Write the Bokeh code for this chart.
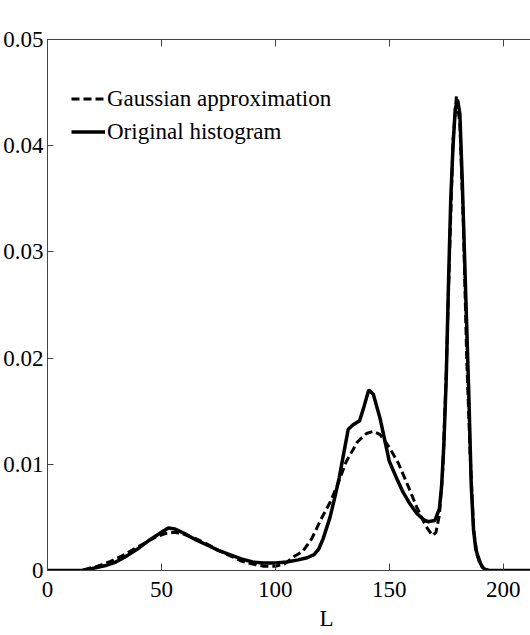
from bokeh.plotting import figure
from bokeh.models import (Range1d, LinearAxis, FixedTicker, Legend, Title,
                          CustomJSTickFormatter)
from bokeh.embed import file_html
from bokeh.resources import INLINE

FONT = "Liberation Serif"

# Original histogram (solid)
x_orig = [0, 15, 18, 22, 26, 30, 35, 40, 45, 50, 53, 56, 60, 65, 70, 75, 80,
          85, 90, 95, 100, 105, 110, 114, 117, 119, 121, 124, 126, 128, 130,
          132, 134, 137, 139, 141, 143, 146, 150, 153, 156, 159, 162, 165,
          167, 170, 172, 173, 174, 175, 176, 177, 178, 179, 180, 181, 182,
          183, 184, 185, 186, 187, 188, 189, 190, 191, 192, 194, 212]
y_orig = [0, 0, 0.0001, 0.0003, 0.0005, 0.0008, 0.0014, 0.0021, 0.0029,
          0.0036, 0.0040, 0.0039, 0.0035, 0.0029, 0.0024, 0.0019, 0.0015,
          0.0011, 0.0008, 0.0007, 0.0007, 0.0008, 0.0010, 0.0012, 0.0015,
          0.0020, 0.0030, 0.0050, 0.0068, 0.0087, 0.0110, 0.0133, 0.0137,
          0.0141, 0.0155, 0.0170, 0.0166, 0.0143, 0.0103, 0.0088, 0.0074,
          0.0063, 0.0054, 0.0048, 0.0046, 0.0047, 0.0058, 0.0080, 0.0120,
          0.0180, 0.0270, 0.0350, 0.0400, 0.0435, 0.0443, 0.0430, 0.0370,
          0.0300, 0.0230, 0.0160, 0.0080, 0.0038, 0.0020, 0.0013, 0.0007,
          0.0003, 0.0001, 0, 0]

# Gaussian approximation (dashed)
x_gauss = [0, 15, 18, 22, 27, 32, 37, 42, 47, 52, 56, 60, 65, 70, 75, 80, 85,
           90, 95, 100, 104, 108, 112, 116, 120, 124, 127, 131, 136, 140, 143,
           146, 150, 154, 158, 162, 166, 169, 170.5, 172, 173.5, 175, 176.5,
           178, 179.5, 181, 182.5, 184, 185.5, 187, 188.5, 190, 192, 194, 212]
y_gauss = [0, 0, 0.0002, 0.0004, 0.0008, 0.0013, 0.0019, 0.0025, 0.0031,
           0.0035, 0.0036, 0.0034, 0.0030, 0.0025, 0.0019, 0.0014, 0.0009,
           0.0006, 0.0004, 0.0004, 0.0006, 0.0013, 0.0018, 0.0030, 0.0048,
           0.0064, 0.0079, 0.0102, 0.0121, 0.0129, 0.0131, 0.0128, 0.0116,
           0.0101, 0.0081, 0.0060, 0.0042, 0.0033, 0.0036, 0.0052, 0.0095,
           0.0185, 0.0300, 0.0405, 0.0447, 0.0420, 0.0330, 0.0200, 0.0110,
           0.0040, 0.0015, 0.0005, 0.0001, 0, 0]

x_ticks = [0, 50, 100, 150, 200]
y_ticks = [0, 0.01, 0.02, 0.03, 0.04, 0.05]
x_label = "L"
legend_labels = ["Gaussian approximation", "Original histogram"]

p = figure(width=530, height=635, output_backend="svg", toolbar_location=None,
           x_range=Range1d(0, 212), y_range=Range1d(0, 0.05),
           x_axis_location=None, y_axis_location=None,
           min_border_left=0, min_border_right=0, min_border_top=39,
           min_border_bottom=63)
p.grid.visible = False
p.outline_line_color = None
p.background_fill_color = "white"

AX = "#444444"
empty = CustomJSTickFormatter(code="return ''")

bottom = LinearAxis(ticker=FixedTicker(ticks=x_ticks))
bottom.major_tick_in = 7
bottom.major_tick_out = 0
bottom.minor_tick_line_color = None
bottom.axis_line_color = AX
bottom.major_tick_line_color = AX
bottom.major_label_text_font = FONT
bottom.major_label_text_font_size = "23px"
bottom.major_label_text_color = "black"
bottom.major_label_standoff = 11
p.add_layout(bottom, "below")

top = LinearAxis(ticker=FixedTicker(ticks=x_ticks), formatter=empty)
top.major_tick_in = 7
top.major_tick_out = 0
top.minor_tick_line_color = None
top.axis_line_color = AX
top.major_tick_line_color = AX
top.major_label_standoff = 0
p.add_layout(top, "above")

left = LinearAxis(ticker=FixedTicker(ticks=y_ticks))
left.major_tick_in = 6
left.major_tick_out = 0
left.minor_tick_line_color = None
left.axis_line_color = AX
left.major_tick_line_color = AX
left.major_label_text_font = FONT
left.major_label_text_font_size = "23px"
left.major_label_text_color = "black"
left.major_label_standoff = 4
p.add_layout(left, "left")

xl = Title(text=x_label, align="left", offset=272, standoff=9,
           text_font=FONT, text_font_size="23px", text_font_style="normal",
           text_color="black")
p.add_layout(xl, "below")

r_o = p.line(x_orig, y_orig, line_color="black", line_width=3.5)
r_g = p.line(x_gauss, y_gauss, line_color="black", line_width=3,
             line_dash="8 4")

legend = Legend(items=[(legend_labels[0], [r_g]), (legend_labels[1], [r_o])],
                location=(24, 422))
legend.background_fill_alpha = 0
legend.border_line_color = None
legend.padding = 0
legend.margin = 0
legend.spacing = 0
legend.glyph_width = 34
legend.glyph_height = 33
legend.label_height = 33
legend.label_standoff = 2
legend.label_text_font = FONT
legend.label_text_font_size = "23px"
legend.label_text_color = "black"
p.add_layout(legend)

open("out.html", "w").write(file_html(p, INLINE))
